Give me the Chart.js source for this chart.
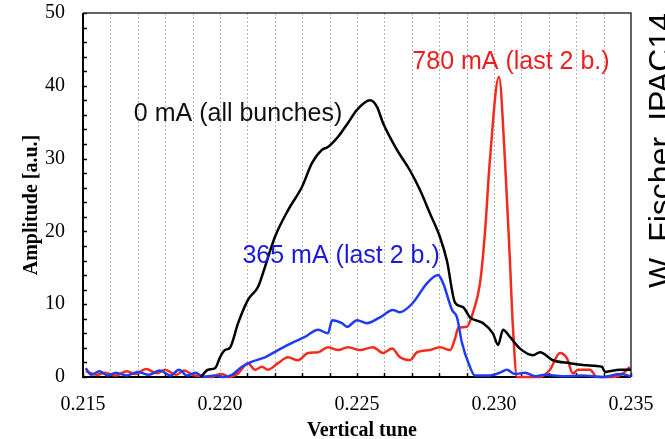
<!DOCTYPE html>
<html>
<head>
<meta charset="utf-8">
<script src="https://cdn.jsdelivr.net/npm/chart.js@4.4.1/dist/chart.umd.min.js"></script>
<style>
  html, body { margin: 0; padding: 0; background: #fff; }
  canvas { display: block; }
</style>
</head>
<body>
<canvas id="c" width="665" height="439"></canvas>
<script>
// ---- data ----
const tune0 = [0.2193,0.21956,0.21982,0.2200,0.22018,0.22036,0.22066,0.22102,0.22139,0.22164,0.2220,0.22248,0.22299,0.22336,0.22372,0.22394,0.22431,0.22467,0.2250,0.22548,0.22573,0.22595,0.22646,0.22693,0.2273,0.22766,0.22803,0.22828,0.22858,0.22887,0.22912,0.2296,0.22996,0.23015,0.23033,0.23058,0.23095,0.23142,0.23168,0.23215,0.23277,0.2334,0.23394,0.23405,0.2346,0.2350];
const amp0  = [0,1.0,1.2,2.7,3.7,4.0,7.4,10.6,12.4,15.1,19.2,22.9,26.1,29.4,31.2,31.6,33.0,34.9,36.7,38.0,37.1,34.9,31.2,28.4,25.7,22.5,19.2,16.0,10.2,9.6,8.2,7.4,6.0,4.4,6.5,5.5,3.9,3.0,3.4,2.3,1.9,1.6,1.4,0.7,1.0,1.0];

const tune365 = [0.2151,0.2153,0.2156,0.2159,0.2162,0.2166,0.2170,0.2174,0.2178,0.2182,0.2185,0.2188,0.2191,0.2194,0.2198,0.2201,0.22044,0.2208,0.22117,0.22164,0.22212,0.22263,0.2231,0.22358,0.22394,0.22409,0.22445,0.22464,0.2250,0.22536,0.22584,0.22631,0.22657,0.22704,0.22756,0.22796,0.22814,0.22847,0.22865,0.22883,0.22912,0.2293,0.22985,0.23022,0.23047,0.23077,0.23113,0.2315,0.23186,0.2325,0.2332,0.2340,0.2346,0.2350];
const amp365  = [1.2,0.3,0.8,0.2,0.6,0.2,0.7,0.3,0.9,0.2,1.0,0.2,0.6,0.0,0.2,0.0,0.3,1.4,2.1,2.7,3.7,4.7,5.5,6.5,6.0,7.8,7.4,6.9,7.8,7.4,8.2,9.2,8.9,10.2,12.9,14.0,12.9,9.2,8.2,4.7,1.4,0.2,0.2,0.6,1.0,0.4,0.6,0.1,0.3,0.1,0.2,0.0,0.4,0.1];

const tune780 = [0.2151,0.2155,0.2158,0.2162,0.2166,0.2169,0.2173,0.2177,0.2180,0.2184,0.2187,0.2190,0.2193,0.2197,0.2200,0.22018,0.22029,0.22066,0.22102,0.22128,0.22153,0.22175,0.22212,0.22248,0.22285,0.22321,0.22358,0.22394,0.22431,0.22467,0.22511,0.22558,0.22595,0.22628,0.22657,0.22693,0.22719,0.22766,0.22803,0.2284,0.22858,0.22869,0.22901,0.22923,0.22949,0.22967,0.22985,0.23018,0.2304,0.23058,0.23069,0.23084,0.23131,0.23168,0.23204,0.23241,0.23266,0.23288,0.23307,0.2335,0.23376,0.23434,0.23471,0.23496];
const amp780  = [0.8,0.3,0.6,0.2,0.8,0.4,1.1,0.5,1.0,0.3,0.9,0.3,0.1,0.0,0.4,0.3,0.0,0.5,1.9,1.0,1.4,1.0,1.9,2.7,2.3,3.3,3.4,4.1,3.7,4.1,3.7,4.1,3.3,3.9,2.7,2.3,3.4,3.7,4.1,3.7,5.3,6.7,6.9,8.8,12.9,19.8,29.8,41.2,29.8,16.0,6.9,0.0,0.0,0.0,1.0,3.3,2.6,0.5,1.0,1.0,0.0,0.0,0.5,1.4];

const xTickLabels = ['0.215','0.220','0.225','0.230','0.235'];
const yTickLabels = ['0','10','20','30','40','50'];

const seriesNames  = ['0 mA (all bunches)', '365 mA (last 2 b.)', '780 mA (last 2 b.)'];
const labelTune    = [0.22066, 0.22442, 0.23062];
const labelAmp     = [36.06, 16.6, 43.3];
const credit = 'W. Fischer, IPAC14';

// ---- styles ----
const lineColors = ['#000000', '#1f3cf5', '#f42a1c'];
const textColors = ['#111111', '#1a1ad8', '#ee1e1e'];
const SERIF = '"Liberation Serif", "Times New Roman", serif';
const SANS = '"Liberation Sans", Arial, sans-serif';

const pts = (xs, ys) => xs.map((v, i) => ({x: v, y: ys[i]}));

const decor = {
  id: 'decor',
  beforeDatasetsDraw(chart) {
    const {ctx, chartArea: a, scales: {x, y}} = chart;
    ctx.save();
    // dotted vertical grid every 0.001
    ctx.strokeStyle = '#b5b5b5';
    ctx.lineWidth = 1;
    ctx.setLineDash([2, 2]);
    x.ticks.forEach((t, i) => {
      if (i === 0 || i === x.ticks.length - 1) return;
      const px = Math.round(x.getPixelForValue(t.value)) + 0.5;
      ctx.beginPath(); ctx.moveTo(px, a.top); ctx.lineTo(px, a.bottom); ctx.stroke();
    });
    ctx.setLineDash([]);
    // inward minor ticks
    ctx.strokeStyle = '#000';
    ctx.lineWidth = 1.5;
    x.ticks.forEach(t => {
      const px = Math.round(x.getPixelForValue(t.value)) + 0.5;
      ctx.beginPath(); ctx.moveTo(px, a.bottom); ctx.lineTo(px, a.bottom - 4); ctx.stroke();
    });
    for (let v = y.min; v <= y.max; v += 2) {
      const py = Math.round(y.getPixelForValue(v)) + 0.5;
      ctx.beginPath(); ctx.moveTo(a.left, py); ctx.lineTo(a.left + 4, py); ctx.stroke();
    }
    // frame
    ctx.strokeStyle = '#333';
    ctx.lineWidth = 1.5;
    ctx.beginPath(); ctx.moveTo(a.left, a.top); ctx.lineTo(a.right, a.top); ctx.lineTo(a.right, a.bottom); ctx.stroke();
    ctx.strokeStyle = '#000';
    ctx.lineWidth = 2;
    ctx.beginPath(); ctx.moveTo(a.left, a.top); ctx.lineTo(a.left, a.bottom); ctx.lineTo(a.right, a.bottom); ctx.stroke();
    ctx.restore();
  },
  afterDraw(chart) {
    const {ctx, chartArea: a, scales: {x, y}} = chart;
    ctx.save();
    // series labels
    ctx.font = '25px ' + SANS;
    ctx.textAlign = 'center';
    ctx.textBaseline = 'middle';
    seriesNames.forEach((s, i) => {
      ctx.fillStyle = textColors[i];
      ctx.fillText(s, x.getPixelForValue(labelTune[i]), y.getPixelForValue(labelAmp[i]));
    });
    // axis titles
    ctx.fillStyle = '#000';
    ctx.font = 'bold 20px ' + SERIF;
    ctx.textAlign = 'center';
    ctx.textBaseline = 'alphabetic';
    ctx.fillText('Vertical tune', (a.left + a.right) / 2 + 5, 436);
    ctx.save();
    ctx.translate(37, 205);
    ctx.rotate(-Math.PI / 2);
    ctx.fillText('Amplitude [a.u.]', 0, 0);
    ctx.restore();
    // credit
    ctx.save();
    ctx.font = '32px ' + SANS;
    ctx.textAlign = 'left';
    ctx.textBaseline = 'alphabetic';
    ctx.translate(671, 288);
    ctx.rotate(-Math.PI / 2);
    ctx.fillText(credit, 0, 0);
    ctx.restore();
    ctx.restore();
  }
};

new Chart(document.getElementById('c'), {
  type: 'line',
  data: {
    datasets: [
      {data: pts(tune0, amp0), borderColor: lineColors[0]},
      {data: pts(tune365, amp365), borderColor: lineColors[1]},
      {data: pts(tune780, amp780), borderColor: lineColors[2]}
    ].map(d => Object.assign(d, {
      borderWidth: 2.5, pointRadius: 0, fill: false,
      cubicInterpolationMode: 'monotone', clip: false
    }))
  },
  options: {
    responsive: false,
    animation: false,
    devicePixelRatio: 1,
    layout: {padding: {top: 13, right: 34, left: 0, bottom: 0}},
    plugins: {legend: {display: false}, tooltip: {enabled: false}},
    scales: {
      x: {
        type: 'linear', min: 0.215, max: 0.235,
        grid: {display: false, drawTicks: false},
        border: {display: false},
        ticks: {
          stepSize: 0.001, autoSkip: false, maxRotation: 0, padding: 16,
          color: '#000', font: {family: SERIF, size: 20},
          callback: (v) => {
            const k = Math.round(v * 1000);
            return k % 5 === 0 ? xTickLabels[(k - 215) / 5] : '';
          }
        },
        afterFit: (s) => { s.height = 62; s.paddingLeft = 0; s.paddingRight = 0; }
      },
      y: {
        min: 0, max: 50,
        grid: {display: false, drawTicks: false},
        border: {display: false},
        ticks: {
          stepSize: 10, padding: 18, color: '#000',
          font: {family: SERIF, size: 20},
          callback: (v) => yTickLabels[Math.round(v / 10)]
        },
        afterFit: (s) => { s.width = 83; s.paddingTop = 0; s.paddingBottom = 0; }
      }
    }
  },
  plugins: [decor]
});
</script>
</body>
</html>
